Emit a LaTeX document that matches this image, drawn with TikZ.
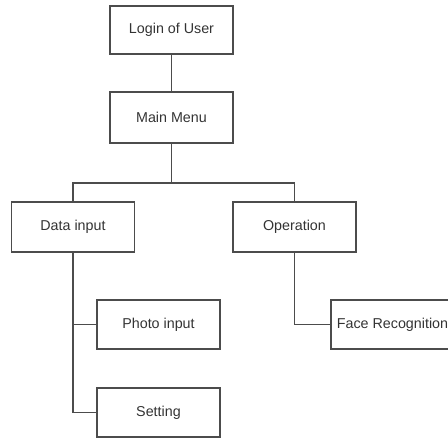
\documentclass[tikz,border=0pt]{standalone}
\usepackage{fontspec}
\setmainfont{Liberation Sans}
\begin{document}
\begin{tikzpicture}[x=1pt,y=1pt,
  box/.style={draw=black!70, line width=1.2pt, minimum width=123pt,
    minimum height=49pt, inner sep=0pt, text=black!80,
    font=\fontsize{14.3}{16}\selectfont},
  link/.style={draw=black!70, line width=1.2pt}]
  % the page keeps this frame; the right box runs past its edge
  \useasboundingbox (0,0) rectangle (448,438);
  % menu tree, rows measured up from the bottom edge
  \node[box, minimum height=48pt] (login) at (171.5,408) {Login of User};
  \node[box, minimum height=51pt] (menu) at (171.5,320.5) {Main Menu};
  \node[box, minimum height=50pt] (data) at (73,211) {Data input};
  \node[box, minimum height=50pt] (oper) at (294.5,211) {Operation};
  \node[box] (photo) at (158.5,113.5) {Photo input};
  \node[box] (setting) at (158.5,25.5) {Setting};
  \node[box] (face) at (392.5,113.5) {Face Recognition};
  \coordinate (bus) at (171.5,255);
  \draw[link] (login.south) -- (menu.north);
  \draw[link] (menu.south) -- (bus);
  \draw[link] (data.north) |- (bus) -| (oper.north);
  \draw[link] (data.south) |- (photo.west);
  \draw[link] (data.south) |- (setting.west);
  \draw[link] (oper.south) |- (face.west);
\end{tikzpicture}
\end{document}
